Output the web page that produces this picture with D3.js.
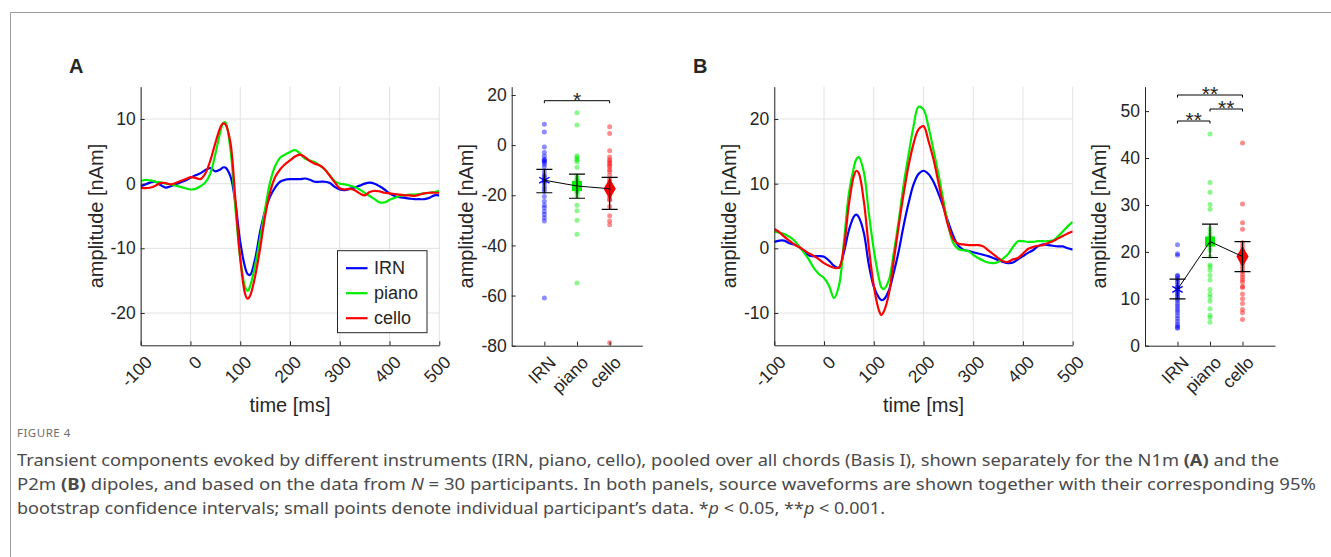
<!DOCTYPE html>
<html>
<head>
<meta charset="utf-8">
<script src="https://cdn.jsdelivr.net/npm/d3@7"></script>
<style>
  body { margin: 0; background: #fff; }
  svg text { font-family: "Liberation Sans", Arial, sans-serif; fill: #262626; }
  .caption text { font-family: "Noto Sans", sans-serif; }
</style>
</head>
<body>
<svg id="fig" width="1331" height="557"></svg>
<script>
// ---- data ----
const instruments = ["IRN", "piano", "cello"];
const times = [-100,-90,-80,-70,-60,-50,-40,-30,-20,-10,0,10,20,30,40,50,60,65,70,80,90,100,110,115,120,130,140,150,160,170,180,190,200,210,220,230,240,250,260,270,280,290,300,310,320,330,340,350,360,370,380,390,400,410,420,430,440,450,460,470,480,490,500];
const timeTicks = [-100, 0, 100, 200, 300, 400, 500];

// panel A (N1m) waveforms, nAm
const irnA = [-0.4,-0.1,0.2,0.3,-0.2,-0.6,-0.4,-0.1,0.2,0.5,0.9,1.3,1.6,2.1,2.4,1.9,2.2,2.5,2.5,1.2,-2.8,-9.0,-13.0,-14.0,-14.1,-11.6,-7.4,-4.2,-2.0,-0.6,0.3,0.6,0.7,0.7,0.7,0.8,0.6,0.3,0.3,0.3,0.1,-0.5,-0.9,-1.0,-0.8,-0.6,-0.3,0.0,0.15,0.0,-0.4,-0.9,-1.5,-1.9,-2.1,-2.2,-2.3,-2.4,-2.4,-2.4,-2.2,-1.8,-1.8];
const pianoA = [0.4,0.6,0.5,0.3,0.2,0.0,-0.1,-0.3,-0.5,-0.7,-0.9,-0.8,-0.4,0.2,1.6,4.6,8.0,9.3,9.5,5.5,-3.5,-11.6,-16.0,-16.6,-15.8,-12.6,-8.4,-3.9,0.2,2.7,4.0,4.5,4.9,5.2,4.7,3.9,3.6,3.3,2.8,2.2,1.3,0.4,0.0,-0.1,-0.3,-0.5,-0.9,-1.4,-1.9,-2.4,-2.9,-2.9,-2.5,-2.2,-1.9,-1.8,-1.7,-1.7,-1.6,-1.5,-1.4,-1.3,-1.1];
const celloA = [-0.6,-0.7,-0.6,-0.3,0.1,0.1,-0.1,0.1,0.4,0.7,1.0,0.9,0.7,1.6,3.6,6.3,8.7,9.3,9.2,6.5,-2.2,-11.5,-17.1,-17.8,-17.3,-14.3,-10.0,-5.0,-1.3,1.0,2.2,3.0,3.6,4.2,4.5,4.1,3.5,3.1,2.8,2.2,1.2,0.2,-0.7,-0.9,-0.8,-1.0,-1.5,-1.8,-1.3,-1.1,-1.2,-1.4,-1.5,-1.6,-1.7,-1.8,-1.8,-1.9,-1.7,-1.5,-1.4,-1.4,-1.4];

// panel B (P2m) waveforms, nAm
const irnB = [1.0,1.2,1.2,0.8,0.6,0.2,-0.5,-1.1,-1.2,-1.2,-1.3,-1.9,-2.7,-3.0,-0.6,2.8,4.9,5.2,4.8,2.4,-2.5,-5.9,-7.6,-8.0,-7.9,-6.6,-3.8,-0.5,3.5,7.0,9.9,11.5,12.0,11.5,10.3,8.5,6.4,4.0,1.9,0.4,-0.2,-0.4,-0.6,-0.8,-1.0,-1.2,-1.5,-1.8,-2.1,-2.3,-2.2,-1.7,-1.2,-0.7,-0.3,0.3,0.6,0.5,0.4,0.3,0.3,0.0,-0.2];
const pianoB = [2.6,2.4,2.2,1.8,1.2,0.3,-0.7,-1.8,-3.1,-4.0,-4.6,-5.8,-7.7,-5.8,1.0,8.5,12.5,13.8,14.1,11.8,5.5,-0.2,-4.5,-6.0,-6.3,-5.0,-0.8,4.2,9.8,14.5,18.9,21.9,21.5,18.8,15.2,11.5,7.4,3.5,0.8,-0.1,-0.3,-0.4,-1.0,-1.5,-1.9,-2.2,-2.3,-2.1,-1.6,-0.9,0.2,1.1,1.1,1.0,1.0,1.1,1.1,1.1,1.2,1.8,2.6,3.4,4.1];
const celloB = [3.0,2.5,1.8,1.2,0.6,0.2,-0.3,-0.8,-1.2,-1.7,-2.3,-2.7,-3.0,-3.0,0.2,6.8,11.2,12.0,11.6,7.3,0.2,-5.8,-9.5,-10.3,-9.8,-7.2,-2.0,3.4,8.4,12.8,16.2,18.4,18.9,16.6,13.8,10.2,6.5,3.4,1.4,0.7,0.6,0.5,0.5,0.5,0.3,-0.3,-0.9,-1.5,-2.0,-2.1,-1.7,-1.5,-0.8,-0.1,0.2,0.4,0.5,0.8,1.1,1.5,1.9,2.3,2.6];

const ampTicksA = [-20, -10, 0, 10];
const ampTicksB = [-10, 0, 10, 20];

// individual participants (N = 30), nAm
const dotsIrnA = [8.3,5.2,-0.8,-2.9,-4.4,-5.6,-6.0,-6.3,-6.8,-7.5,-8.6,-10.6,-12.0,-12.6,-13.5,-14.0,-14.5,-15.2,-16.5,-17.5,-18.5,-20.5,-22.4,-24.0,-25.0,-26.5,-27.7,-29.0,-30.3,-61.0];
const dotsPianoA = [12.9,8.0,-4.2,-4.8,-5.5,-6.0,-6.6,-8.8,-12.2,-13.0,-13.8,-14.0,-14.8,-15.0,-15.5,-16.0,-16.5,-16.8,-17.0,-17.3,-17.6,-18.2,-18.5,-19.0,-20.5,-24.0,-26.2,-30.0,-35.5,-55.0];
const dotsCelloA = [7.3,4.6,-2.2,-4.7,-5.8,-6.5,-7.2,-8.0,-8.6,-9.8,-10.5,-12.0,-13.5,-14.5,-15.5,-16.0,-16.5,-17.0,-17.5,-18.2,-18.8,-19.0,-20.5,-21.5,-22.0,-24.5,-28.2,-30.3,-31.8,-78.8];
const dotsIrnB = [21.5,19.6,19.3,15.0,14.8,14.4,14.0,13.5,13.0,12.5,12.3,12.0,11.6,11.2,10.8,10.4,10.0,9.6,9.0,8.5,8.0,7.5,7.0,6.4,5.8,5.2,4.6,4.2,3.9,3.7];
const dotsPianoB = [45.1,34.8,32.7,30.1,29.1,25.0,24.2,23.5,23.0,22.8,22.5,22.2,21.9,21.6,21.0,20.3,19.0,17.2,16.8,16.1,15.0,14.0,12.0,11.0,10.3,9.5,7.9,6.5,6.0,5.0];
const dotsCelloB = [43.2,30.2,26.2,24.8,22.0,21.2,20.5,20.0,19.8,19.3,19.0,18.8,18.6,18.2,17.6,17.0,16.4,15.8,15.2,14.6,14.0,13.5,12.6,12.4,11.0,10.0,9.0,7.7,7.0,5.6];

// group means with 95% bootstrap CIs
const meansA = [-14.0, -16.3, -17.4];
const ciLowA = [-19.0, -21.2, -25.6];
const ciHighA = [-9.7, -11.6, -12.9];
const meansB = [12.0, 22.2, 19.0];
const ciLowB = [10.0, 18.8, 15.8];
const ciHighB = [14.2, 25.9, 22.2];

const dotTicksA = [-80, -60, -40, -20, 0, 20];
const dotTicksB = [0, 10, 20, 30, 40, 50];

// significance pairs [from, to, label]
const sigA = [[0, 2, "*"]];
const sigB = [[0, 2, "**"], [1, 2, "**"], [0, 1, "**"]];

const colors = ["#0000ff", "#00ee00", "#ff0000"];
const ink = "#262626";
const FONT = "Liberation Sans, Arial, sans-serif";

const svg = d3.select("#fig");

function styleAxis(g){
    g.attr("font-size", 17.5).attr("font-family", FONT).attr("color", ink);
    g.select(".domain").attr("stroke-width", 1);
}

function drawWave(box, yDomain, yTicks, series, clipId, legend){
    const x = d3.scaleLinear().domain([-100, 500]).range([box.left, box.right]);
    const y = d3.scaleLinear().domain(yDomain).range([box.bottom, box.top]);
    const g = svg.append("g");

    g.append("clipPath").attr("id", clipId)
      .append("rect").attr("x", box.left).attr("y", box.top)
      .attr("width", box.right - box.left).attr("height", box.bottom - box.top);

    g.selectAll(null).data(timeTicks).enter().append("line")
      .attr("x1", d => x(d)).attr("x2", d => x(d))
      .attr("y1", box.top).attr("y2", box.bottom)
      .attr("stroke", "#e2e2e2");
    g.selectAll(null).data(yTicks).enter().append("line")
      .attr("x1", box.left).attr("x2", box.right)
      .attr("y1", d => y(d)).attr("y2", d => y(d))
      .attr("stroke", "#e2e2e2");

    const line = d3.line()
      .x((d, i) => x(times[i]))
      .y(d => y(d))
      .curve(d3.curveCatmullRom.alpha(0.5));

    series.forEach((s, i) => {
        g.append("path")
          .attr("d", line(s))
          .attr("fill", "none")
          .attr("stroke", colors[i])
          .attr("stroke-width", 2.2)
          .attr("clip-path", `url(#${clipId})`);
    });

    const yAx = g.append("g")
      .attr("transform", `translate(${box.left},0)`)
      .call(d3.axisLeft(y).tickValues(yTicks).tickSizeInner(-4).tickSizeOuter(0).tickPadding(5).tickFormat(d => String(d)));
    styleAxis(yAx);

    const xAx = g.append("g")
      .attr("transform", `translate(0,${box.bottom})`)
      .call(d3.axisBottom(x).tickValues(timeTicks).tickSizeInner(-4).tickSizeOuter(0).tickFormat(d => String(d)));
    styleAxis(xAx);
    xAx.selectAll("text")
      .attr("y", 0).attr("dy", 0)
      .attr("text-anchor", "end")
      .attr("transform", "translate(12,18) rotate(-45)");

    g.append("text")
      .attr("transform", `translate(${box.left - 38},${(box.top + box.bottom) / 2}) rotate(-90)`)
      .attr("text-anchor", "middle")
      .attr("font-size", 20)
      .text("amplitude [nAm]");
    g.append("text")
      .attr("x", (box.left + box.right) / 2).attr("y", box.bottom + 67)
      .attr("text-anchor", "middle")
      .attr("font-size", 20)
      .text("time [ms]");

    if(legend){
        const lg = g.append("g").attr("transform", `translate(${legend.x},${legend.y})`);
        lg.append("rect").attr("width", 89.5).attr("height", 82)
          .attr("fill", "#fff").attr("stroke", ink).attr("stroke-width", 1);
        instruments.forEach((name, i) => {
            lg.append("line").attr("x1", 8.5).attr("x2", 30)
              .attr("y1", 17.5 + i * 25).attr("y2", 17.5 + i * 25)
              .attr("stroke", colors[i]).attr("stroke-width", 2.2);
            lg.append("text").attr("x", 36.5).attr("y", 17.5 + i * 25)
              .attr("dy", "0.35em").attr("font-size", 18).text(name);
        });
    }
}

function drawDots(box, yDomain, yTicks, groups, means, lows, highs, sigs, bracketYs){
    const x = d3.scaleLinear().domain([0, 4]).range([box.left, box.right]);
    const y = d3.scaleLinear().domain(yDomain).range([box.bottom, box.top]);
    const g = svg.append("g");

    groups.forEach((vals, i) => {
        g.selectAll(null).data(vals).enter().append("circle")
          .attr("cx", x(i + 1)).attr("cy", d => y(d))
          .attr("r", 2.5)
          .attr("fill", colors[i]).attr("fill-opacity", 0.45);
    });

    const symbols = [d3.symbolAsterisk || d3.symbolCross, d3.symbolSquare, d3.symbolDiamond];
    const sizes = [100, 100, 130];
    means.forEach((m, i) => {
        const p = g.append("path")
          .attr("d", d3.symbol().type(symbols[i]).size(sizes[i])())
          .attr("transform", `translate(${x(i + 1)},${y(m)})`);
        if(i === 0){
            p.attr("fill", "none").attr("stroke", colors[i]).attr("stroke-width", 1.4);
        } else {
            p.attr("fill", colors[i]);
        }
    });

    means.forEach((m, i) => {
        const cx = x(i + 1);
        g.append("path")
          .attr("d", `M${cx - 8},${y(highs[i])}H${cx + 8}M${cx},${y(highs[i])}V${y(lows[i])}M${cx - 8},${y(lows[i])}H${cx + 8}`)
          .attr("stroke", "#000").attr("stroke-width", 1.2).attr("fill", "none");
    });
    g.append("path")
      .attr("d", d3.line().x((d, i) => x(i + 1)).y(d => y(d))(means))
      .attr("stroke", "#000").attr("stroke-width", 1).attr("fill", "none");

    sigs.forEach((s, k) => {
        const yl = bracketYs[k];
        const x1 = x(s[0] + 1), x2 = x(s[1] + 1);
        g.append("path")
          .attr("d", `M${x1},${yl + 2.5}V${yl}H${x2}V${yl + 2.5}`)
          .attr("stroke", "#000").attr("stroke-width", 1).attr("fill", "none");
        g.append("text")
          .attr("x", (x1 + x2) / 2).attr("y", yl + 6)
          .attr("text-anchor", "middle").attr("font-size", 21)
          .attr("fill", "#000")
          .text(s[2]);
    });

    const yAx = g.append("g")
      .attr("transform", `translate(${box.left},0)`)
      .call(d3.axisLeft(y).tickValues(yTicks).tickSizeInner(-4).tickSizeOuter(0).tickPadding(5).tickFormat(d => String(d)));
    styleAxis(yAx);

    const xAx = g.append("g")
      .attr("transform", `translate(0,${box.bottom})`)
      .call(d3.axisBottom(x).tickValues([1, 2, 3]).tickSizeInner(-4).tickSizeOuter(0).tickFormat(d => instruments[d - 1]));
    styleAxis(xAx);
    xAx.selectAll("text")
      .attr("y", 0).attr("dy", 0)
      .attr("text-anchor", "end")
      .attr("transform", "translate(12,18) rotate(-45)");

    g.append("text")
      .attr("transform", `translate(${box.left - 39},${(box.top + box.bottom) / 2}) rotate(-90)`)
      .attr("text-anchor", "middle")
      .attr("font-size", 20)
      .text("amplitude [nAm]");
}

// frame of the figure
svg.append("path").attr("d", "M10.5,557V12.5H1331").attr("stroke", "#9a9a9a").attr("fill", "none");

// panel letters
svg.append("text").attr("x", 69).attr("y", 73).attr("font-size", 20).attr("font-weight", "bold").attr("fill", "#000").text("A");
svg.append("text").attr("x", 693).attr("y", 73).attr("font-size", 20).attr("font-weight", "bold").attr("fill", "#000").text("B");

drawWave({left: 140.7, right: 439.3, top: 86.7, bottom: 345.3}, [-25, 15], ampTicksA,
    [irnA, pianoA, celloA], "clipA", {x: 337.5, y: 250.7});
drawDots({left: 511.7, right: 642.3, top: 86.7, bottom: 345.7}, [-80, 23.3], dotTicksA,
    [dotsIrnA, dotsPianoA, dotsCelloA], meansA, ciLowA, ciHighA, sigA, [100.7]);
drawWave({left: 774.3, right: 1072.7, top: 86.7, bottom: 345.3}, [-15, 25], ampTicksB,
    [irnB, pianoB, celloB], "clipB", null);
drawDots({left: 1145, right: 1275, top: 86.7, bottom: 345.7}, [0, 55.2], dotTicksB,
    [dotsIrnB, dotsPianoB, dotsCelloB], meansB, ciLowB, ciHighB, sigB, [95, 109, 121]);

// caption
const cap = svg.append("g").attr("class", "caption");
cap.append("text").attr("x", 17).attr("y", 437).attr("font-size", 11.5)
  .attr("letter-spacing", 0.5).style("fill", "#6e6e6e").text("FIGURE 4");

const capLines = [
    {y: 466, len: 1262, parts: [["Transient components evoked by different instruments (IRN, piano, cello), pooled over all chords (Basis I), shown separately for the N1m ", ""], ["(A)", "b"], [" and the", ""]]},
    {y: 490, len: 1299, parts: [["P2m ", ""], ["(B)", "b"], [" dipoles, and based on the data from ", ""], ["N", "i"], [" = 30 participants. In both panels, source waveforms are shown together with their corresponding 95%", ""]]},
    {y: 514, len: 868, parts: [["bootstrap confidence intervals; small points denote individual participant\u2019s data. *", ""], ["p", "i"], [" < 0.05, **", ""], ["p", "i"], [" < 0.001.", ""]]}
];
capLines.forEach(l => {
    const t = cap.append("text").attr("x", 17).attr("y", l.y)
      .attr("font-size", 16.5).style("fill", "#4a4a4a")
      .attr("textLength", l.len).attr("lengthAdjust", "spacingAndGlyphs");
    l.parts.forEach(p => {
        const ts = t.append("tspan").text(p[0]);
        if(p[1] === "b") ts.attr("font-weight", "bold");
        if(p[1] === "i") ts.attr("font-style", "italic");
    });
});
</script>
</body>
</html>
